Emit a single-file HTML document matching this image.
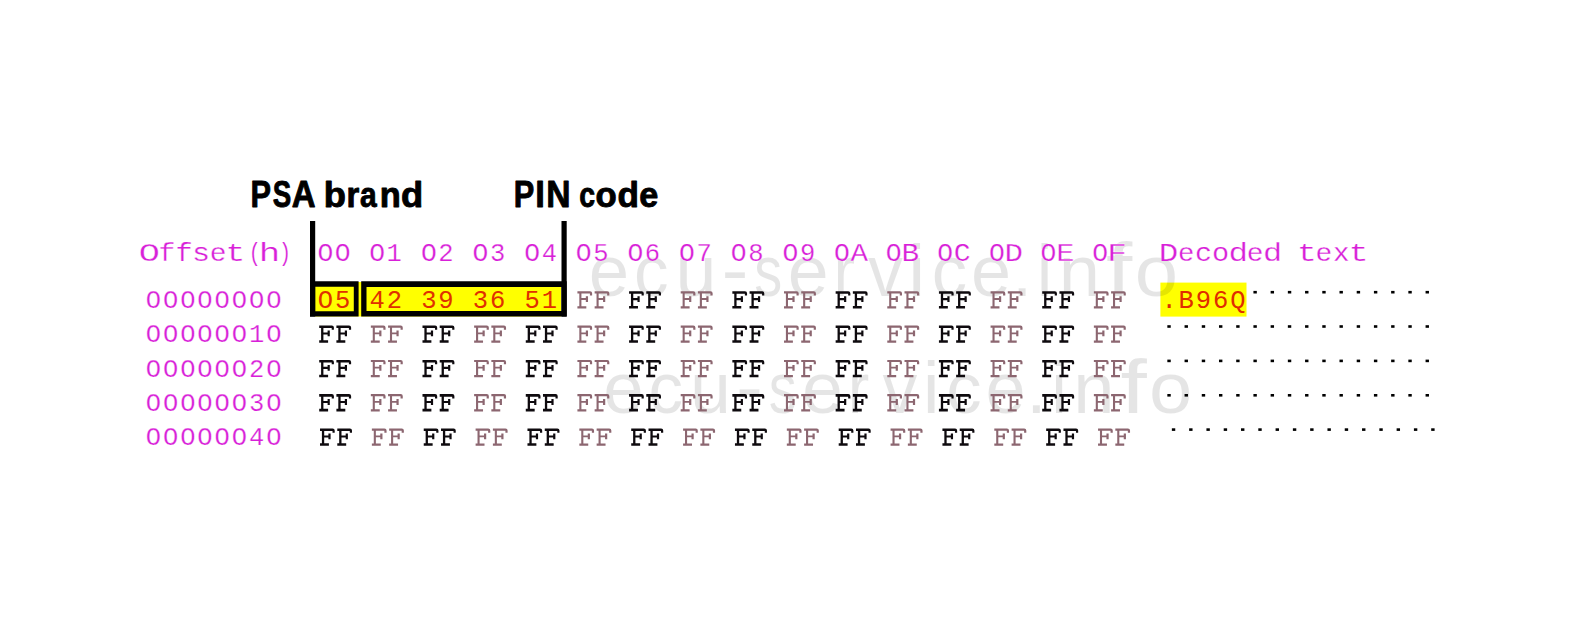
<!DOCTYPE html>
<html><head><meta charset="utf-8"><style>
html,body{margin:0;padding:0;background:#fff;}
body{width:1586px;height:627px;position:relative;overflow:hidden;}
text{white-space:pre;}
</style></head><body>
<svg width="1586" height="627" viewBox="0 0 1586 627" style="position:absolute;left:0;top:0">
<defs>
<path id="Fb" d="M0 0H12.6Q14.7 0 14.7 2.0V4.3H12.5V2.55H4.20V6.9H8.4V5.0H10.6V10.8H8.4V9.00H4.20V14.75H8.9V17.3H0V14.75H1.9V2.55H0Z"/>
<path id="Fr" d="M0 0H12.6Q14.7 0 14.7 2.0V4.3H12.5V2.20H4.00V6.9H8.4V5.0H10.6V10.8H8.4V8.70H4.00V15.10H8.9V17.3H0V15.10H1.9V2.20H0Z"/>
</defs>
<rect x="315" y="282" width="246" height="34.5" fill="#ffff00"/>
<rect x="1160.4" y="282.6" width="86.1" height="34" fill="#ffff00"/>
<g font-family="Liberation Sans" fill="#000" fill-opacity="0.1">
<text transform="translate(608.90 295.80) scale(0.995 1.000)" x="-20.23" y="0" font-size="73">e</text>
<text transform="translate(651.90 295.80) scale(0.947 1.000)" x="-18.84" y="0" font-size="73">c</text>
<text transform="translate(696.00 295.80) scale(1.009 1.000)" x="-20.25" y="0" font-size="73">u</text>
<text transform="translate(735.10 294.00) scale(1.111 1.000)" x="-12.15" y="0" font-size="73">-</text>
<text transform="translate(768.00 295.80) scale(0.767 1.000)" x="-17.95" y="0" font-size="73">s</text>
<text transform="translate(808.00 295.80) scale(1.007 1.000)" x="-20.23" y="0" font-size="73">e</text>
<text transform="translate(845.80 295.80) scale(0.888 1.000)" x="-13.97" y="0" font-size="73">r</text>
<text transform="translate(885.50 295.80) scale(0.956 1.000)" x="-18.25" y="0" font-size="73">v</text>
<text transform="translate(916.70 295.80) scale(1.044 1.000)" x="-8.09" y="0" font-size="73">i</text>
<text transform="translate(950.00 295.80) scale(0.969 1.000)" x="-18.84" y="0" font-size="73">c</text>
<text transform="translate(991.00 295.80) scale(0.987 1.000)" x="-20.23" y="0" font-size="73">e</text>
<text transform="translate(1022.00 295.80) scale(1.000 1.000)" x="-10.14" y="0" font-size="73">.</text>
<text transform="translate(1044.60 295.80) scale(0.966 1.000)" x="-8.09" y="0" font-size="73">i</text>
<text transform="translate(1079.50 295.80) scale(1.016 1.000)" x="-20.35" y="0" font-size="73">n</text>
<text transform="translate(1120.00 295.80) scale(1.297 1.045)" x="-10.71" y="0" font-size="73">f</text>
<text transform="translate(1156.40 295.80) scale(1.068 1.000)" x="-20.30" y="0" font-size="73">o</text>
<text transform="translate(623.30 412.60) scale(0.995 1.000)" x="-20.23" y="0" font-size="73">e</text>
<text transform="translate(666.30 412.60) scale(0.947 1.000)" x="-18.84" y="0" font-size="73">c</text>
<text transform="translate(710.40 412.60) scale(1.009 1.000)" x="-20.25" y="0" font-size="73">u</text>
<text transform="translate(749.50 410.80) scale(1.111 1.000)" x="-12.15" y="0" font-size="73">-</text>
<text transform="translate(782.40 412.60) scale(0.767 1.000)" x="-17.95" y="0" font-size="73">s</text>
<text transform="translate(822.40 412.60) scale(1.007 1.000)" x="-20.23" y="0" font-size="73">e</text>
<text transform="translate(860.20 412.60) scale(0.888 1.000)" x="-13.97" y="0" font-size="73">r</text>
<text transform="translate(899.90 412.60) scale(0.956 1.000)" x="-18.25" y="0" font-size="73">v</text>
<text transform="translate(931.10 412.60) scale(1.044 1.000)" x="-8.09" y="0" font-size="73">i</text>
<text transform="translate(964.40 412.60) scale(0.969 1.000)" x="-18.84" y="0" font-size="73">c</text>
<text transform="translate(1005.40 412.60) scale(0.987 1.000)" x="-20.23" y="0" font-size="73">e</text>
<text transform="translate(1036.40 412.60) scale(1.000 1.000)" x="-10.14" y="0" font-size="73">.</text>
<text transform="translate(1059.00 412.60) scale(0.966 1.000)" x="-8.09" y="0" font-size="73">i</text>
<text transform="translate(1093.90 412.60) scale(1.016 1.000)" x="-20.35" y="0" font-size="73">n</text>
<text transform="translate(1134.40 412.60) scale(1.297 1.045)" x="-10.71" y="0" font-size="73">f</text>
<text transform="translate(1170.80 412.60) scale(1.068 1.000)" x="-20.30" y="0" font-size="73">o</text>
</g>
<g font-family="Liberation Sans" font-weight="bold" fill="#000" stroke="#000" stroke-width="0.9" stroke-linejoin="round">
<text transform="translate(261.25 206.85) scale(0.833 1.000)" x="-12.91" y="0" font-size="36.9">P</text>
<text transform="translate(281.75 206.85) scale(0.751 1.000)" x="-12.12" y="0" font-size="36.9">S</text>
<text transform="translate(303.70 206.85) scale(0.893 1.000)" x="-13.30" y="0" font-size="36.9">A</text>
<text transform="translate(335.20 206.85) scale(1.038 1.000)" x="-11.13" y="0" font-size="35.0">b</text>
<text transform="translate(353.60 206.85) scale(0.937 1.000)" x="-7.70" y="0" font-size="35.0">r</text>
<text transform="translate(368.85 206.85) scale(0.857 1.000)" x="-10.36" y="0" font-size="35.0">a</text>
<text transform="translate(390.35 206.85) scale(0.982 1.000)" x="-10.76" y="0" font-size="35.0">n</text>
<text transform="translate(411.70 206.85) scale(1.038 1.000)" x="-10.25" y="0" font-size="35.0">d</text>
<text transform="translate(524.55 206.85) scale(0.833 1.000)" x="-12.91" y="0" font-size="36.9">P</text>
<text transform="translate(540.15 206.85) scale(0.941 1.000)" x="-5.13" y="0" font-size="36.9">I</text>
<text transform="translate(558.45 206.85) scale(0.913 1.000)" x="-13.31" y="0" font-size="36.9">N</text>
<text transform="translate(587.40 206.85) scale(0.814 1.000)" x="-9.90" y="0" font-size="35.0">c</text>
<text transform="translate(606.00 206.85) scale(0.992 1.000)" x="-10.69" y="0" font-size="35.0">o</text>
<text transform="translate(627.70 206.85) scale(1.004 1.000)" x="-10.25" y="0" font-size="35.0">d</text>
<text transform="translate(648.90 206.85) scale(0.976 1.000)" x="-9.82" y="0" font-size="35.0">e</text>
</g>
<g font-family="Liberation Mono" font-size="25.5">
<text transform="translate(149.40 261.00) scale(1.380 1)" x="-7.65" y="0" fill="#d820d8" stroke="#fff" stroke-width="0.25">O</text><text transform="translate(166.95 261.00) scale(1.095 1)" x="-7.70" y="0" fill="#d820d8" stroke="#fff" stroke-width="0.25">f</text><text transform="translate(184.10 261.00) scale(1.120 1)" x="-7.70" y="0" fill="#d820d8" stroke="#fff" stroke-width="0.25">f</text><text transform="translate(201.05 261.00) scale(1.178 1)" x="-7.64" y="0" fill="#d820d8" stroke="#fff" stroke-width="0.25">s</text><text transform="translate(218.00 261.00) scale(1.095 1)" x="-7.64" y="0" fill="#d820d8" stroke="#fff" stroke-width="0.25">e</text><text transform="translate(235.30 261.00) scale(1.292 1)" x="-7.51" y="0" fill="#d820d8" stroke="#fff" stroke-width="0.25">t</text><text transform="translate(254.70 261.00) scale(0.790 1)" x="-7.68" y="0" fill="#d820d8" stroke="#fff" stroke-width="0.25">(</text><text transform="translate(269.60 261.00) scale(1.404 1)" x="-7.68" y="0" fill="#d820d8" stroke="#fff" stroke-width="0.25">h</text><text transform="translate(285.00 261.00) scale(0.790 1)" x="-7.60" y="0" fill="#d820d8" stroke="#fff" stroke-width="0.25">)</text>
<text transform="translate(325.50 261.00) scale(1.035 1)" x="-7.65" y="0" fill="#d820d8" stroke="#fff" stroke-width="0.25">O</text><text transform="translate(342.71 261.00) scale(1.035 1)" x="-7.65" y="0" fill="#d820d8" stroke="#fff" stroke-width="0.25">O</text><text transform="translate(377.14 261.00) scale(1.035 1)" x="-7.65" y="0" fill="#d820d8" stroke="#fff" stroke-width="0.25">O</text><text transform="translate(394.36 261.00) scale(1.000 1)" x="-7.96" y="0" fill="#d820d8" stroke="#fff" stroke-width="0.25">1</text><text transform="translate(428.79 261.00) scale(1.035 1)" x="-7.65" y="0" fill="#d820d8" stroke="#fff" stroke-width="0.25">O</text><text transform="translate(446.00 261.00) scale(1.000 1)" x="-7.65" y="0" fill="#d820d8" stroke="#fff" stroke-width="0.25">2</text><text transform="translate(480.44 261.00) scale(1.035 1)" x="-7.65" y="0" fill="#d820d8" stroke="#fff" stroke-width="0.25">O</text><text transform="translate(497.65 261.00) scale(1.000 1)" x="-7.64" y="0" fill="#d820d8" stroke="#fff" stroke-width="0.25">3</text><text transform="translate(532.08 261.00) scale(1.035 1)" x="-7.65" y="0" fill="#d820d8" stroke="#fff" stroke-width="0.25">O</text><text transform="translate(549.29 261.00) scale(1.000 1)" x="-7.65" y="0" fill="#d820d8" stroke="#fff" stroke-width="0.25">4</text><text transform="translate(583.73 261.00) scale(1.035 1)" x="-7.65" y="0" fill="#d820d8" stroke="#fff" stroke-width="0.25">O</text><text transform="translate(600.94 261.00) scale(1.000 1)" x="-7.64" y="0" fill="#d820d8" stroke="#fff" stroke-width="0.25">5</text><text transform="translate(635.37 261.00) scale(1.035 1)" x="-7.65" y="0" fill="#d820d8" stroke="#fff" stroke-width="0.25">O</text><text transform="translate(652.58 261.00) scale(1.000 1)" x="-7.76" y="0" fill="#d820d8" stroke="#fff" stroke-width="0.25">6</text><text transform="translate(687.01 261.00) scale(1.035 1)" x="-7.65" y="0" fill="#d820d8" stroke="#fff" stroke-width="0.25">O</text><text transform="translate(704.23 261.00) scale(1.000 1)" x="-7.64" y="0" fill="#d820d8" stroke="#fff" stroke-width="0.25">7</text><text transform="translate(738.66 261.00) scale(1.035 1)" x="-7.65" y="0" fill="#d820d8" stroke="#fff" stroke-width="0.25">O</text><text transform="translate(755.88 261.00) scale(1.000 1)" x="-7.64" y="0" fill="#d820d8" stroke="#fff" stroke-width="0.25">8</text><text transform="translate(790.30 261.00) scale(1.035 1)" x="-7.65" y="0" fill="#d820d8" stroke="#fff" stroke-width="0.25">O</text><text transform="translate(807.52 261.00) scale(1.000 1)" x="-7.65" y="0" fill="#d820d8" stroke="#fff" stroke-width="0.25">9</text><text transform="translate(841.95 261.00) scale(1.035 1)" x="-7.65" y="0" fill="#d820d8" stroke="#fff" stroke-width="0.25">O</text><text transform="translate(859.16 261.00) scale(1.145 1)" x="-7.65" y="0" fill="#d820d8" stroke="#fff" stroke-width="0.25">A</text><text transform="translate(893.60 261.00) scale(1.035 1)" x="-7.65" y="0" fill="#d820d8" stroke="#fff" stroke-width="0.25">O</text><text transform="translate(910.81 261.00) scale(1.152 1)" x="-8.18" y="0" fill="#d820d8" stroke="#fff" stroke-width="0.25">B</text><text transform="translate(945.24 261.00) scale(1.035 1)" x="-7.65" y="0" fill="#d820d8" stroke="#fff" stroke-width="0.25">O</text><text transform="translate(962.46 261.00) scale(1.108 1)" x="-7.81" y="0" fill="#d820d8" stroke="#fff" stroke-width="0.25">C</text><text transform="translate(996.88 261.00) scale(1.035 1)" x="-7.65" y="0" fill="#d820d8" stroke="#fff" stroke-width="0.25">O</text><text transform="translate(1014.10 261.00) scale(1.209 1)" x="-8.01" y="0" fill="#d820d8" stroke="#fff" stroke-width="0.25">D</text><text transform="translate(1048.53 261.00) scale(1.035 1)" x="-7.65" y="0" fill="#d820d8" stroke="#fff" stroke-width="0.25">O</text><text transform="translate(1065.74 261.00) scale(1.188 1)" x="-7.99" y="0" fill="#d820d8" stroke="#fff" stroke-width="0.25">E</text><text transform="translate(1100.17 261.00) scale(1.035 1)" x="-7.65" y="0" fill="#d820d8" stroke="#fff" stroke-width="0.25">O</text><text transform="translate(1117.39 261.00) scale(1.280 1)" x="-7.96" y="0" fill="#d820d8" stroke="#fff" stroke-width="0.25">F</text>
<text transform="translate(1169.03 261.00) scale(1.276 1)" x="-8.01" y="0" fill="#d820d8" stroke="#fff" stroke-width="0.25">D</text><text transform="translate(1186.25 261.00) scale(1.070 1)" x="-7.64" y="0" fill="#d820d8" stroke="#fff" stroke-width="0.25">e</text><text transform="translate(1203.46 261.00) scale(1.116 1)" x="-7.53" y="0" fill="#d820d8" stroke="#fff" stroke-width="0.25">c</text><text transform="translate(1220.68 261.00) scale(1.121 1)" x="-7.64" y="0" fill="#d820d8" stroke="#fff" stroke-width="0.25">o</text><text transform="translate(1237.89 261.00) scale(1.278 1)" x="-7.39" y="0" fill="#d820d8" stroke="#fff" stroke-width="0.25">d</text><text transform="translate(1255.11 261.00) scale(1.095 1)" x="-7.64" y="0" fill="#d820d8" stroke="#fff" stroke-width="0.25">e</text><text transform="translate(1272.32 261.00) scale(1.252 1)" x="-7.39" y="0" fill="#d820d8" stroke="#fff" stroke-width="0.25">d</text><text transform="translate(1306.75 261.00) scale(1.292 1)" x="-7.51" y="0" fill="#d820d8" stroke="#fff" stroke-width="0.25">t</text><text transform="translate(1323.97 261.00) scale(1.095 1)" x="-7.64" y="0" fill="#d820d8" stroke="#fff" stroke-width="0.25">e</text><text transform="translate(1341.18 261.00) scale(1.082 1)" x="-7.64" y="0" fill="#d820d8" stroke="#fff" stroke-width="0.25">x</text><text transform="translate(1358.40 261.00) scale(1.292 1)" x="-7.51" y="0" fill="#d820d8" stroke="#fff" stroke-width="0.25">t</text>
<text x="145.71 162.92 180.14 197.35 214.57 231.78 249.00 266.21" y="307.80" fill="#d820d8" stroke="#fff" stroke-width="0.25">OOOOOOOO</text>
<text x="145.71 162.92 180.14 197.35 214.57 231.78 249.00 266.21" y="342.10" fill="#d820d8" stroke="#fff" stroke-width="0.25">OOOOOO1O</text>
<text x="145.71 162.92 180.14 197.35 214.57 231.78 249.00 266.21" y="376.50" fill="#d820d8" stroke="#fff" stroke-width="0.25">OOOOOO2O</text>
<text x="145.71 162.92 180.14 197.35 214.57 231.78 249.00 266.21" y="410.70" fill="#d820d8" stroke="#fff" stroke-width="0.25">OOOOOO3O</text>
<text x="145.71 162.92 180.14 197.35 214.57 231.78 249.00 266.21" y="445.10" fill="#d820d8" stroke="#fff" stroke-width="0.25">OOOOOO4O</text>
<text x="317.86 335.07 369.50 386.72 421.15 438.36 472.79 490.01 524.44 541.65" y="307.80" fill="#e03000">O542393651</text>
<text x="1161.39 1178.61 1195.82 1213.04 1230.25" y="307.80" fill="#e02c00">.B96Q</text>
</g>
<use href="#Fr" x="577.42" y="291.20" fill="#8c6670"/>
<use href="#Fr" x="594.64" y="291.20" fill="#8c6670"/>
<use href="#Fb" x="629.07" y="291.20" fill="#0e0a0e"/>
<use href="#Fb" x="646.28" y="291.20" fill="#0e0a0e"/>
<use href="#Fr" x="680.71" y="291.20" fill="#8c6670"/>
<use href="#Fr" x="697.93" y="291.20" fill="#8c6670"/>
<use href="#Fb" x="732.36" y="291.20" fill="#0e0a0e"/>
<use href="#Fb" x="749.57" y="291.20" fill="#0e0a0e"/>
<use href="#Fr" x="784.00" y="291.20" fill="#8c6670"/>
<use href="#Fr" x="801.22" y="291.20" fill="#8c6670"/>
<use href="#Fb" x="835.65" y="291.20" fill="#0e0a0e"/>
<use href="#Fb" x="852.86" y="291.20" fill="#0e0a0e"/>
<use href="#Fr" x="887.29" y="291.20" fill="#8c6670"/>
<use href="#Fr" x="904.51" y="291.20" fill="#8c6670"/>
<use href="#Fb" x="938.94" y="291.20" fill="#0e0a0e"/>
<use href="#Fb" x="956.15" y="291.20" fill="#0e0a0e"/>
<use href="#Fr" x="990.58" y="291.20" fill="#8c6670"/>
<use href="#Fr" x="1007.80" y="291.20" fill="#8c6670"/>
<use href="#Fb" x="1042.23" y="291.20" fill="#0e0a0e"/>
<use href="#Fb" x="1059.44" y="291.20" fill="#0e0a0e"/>
<use href="#Fr" x="1093.87" y="291.20" fill="#8c6670"/>
<use href="#Fr" x="1111.09" y="291.20" fill="#8c6670"/>
<use href="#Fb" x="319.20" y="325.50" fill="#0e0a0e"/>
<use href="#Fb" x="336.41" y="325.50" fill="#0e0a0e"/>
<use href="#Fr" x="370.84" y="325.50" fill="#8c6670"/>
<use href="#Fr" x="388.06" y="325.50" fill="#8c6670"/>
<use href="#Fb" x="422.49" y="325.50" fill="#0e0a0e"/>
<use href="#Fb" x="439.70" y="325.50" fill="#0e0a0e"/>
<use href="#Fr" x="474.13" y="325.50" fill="#8c6670"/>
<use href="#Fr" x="491.35" y="325.50" fill="#8c6670"/>
<use href="#Fb" x="525.78" y="325.50" fill="#0e0a0e"/>
<use href="#Fb" x="542.99" y="325.50" fill="#0e0a0e"/>
<use href="#Fr" x="577.42" y="325.50" fill="#8c6670"/>
<use href="#Fr" x="594.64" y="325.50" fill="#8c6670"/>
<use href="#Fb" x="629.07" y="325.50" fill="#0e0a0e"/>
<use href="#Fb" x="646.28" y="325.50" fill="#0e0a0e"/>
<use href="#Fr" x="680.71" y="325.50" fill="#8c6670"/>
<use href="#Fr" x="697.93" y="325.50" fill="#8c6670"/>
<use href="#Fb" x="732.36" y="325.50" fill="#0e0a0e"/>
<use href="#Fb" x="749.57" y="325.50" fill="#0e0a0e"/>
<use href="#Fr" x="784.00" y="325.50" fill="#8c6670"/>
<use href="#Fr" x="801.22" y="325.50" fill="#8c6670"/>
<use href="#Fb" x="835.65" y="325.50" fill="#0e0a0e"/>
<use href="#Fb" x="852.86" y="325.50" fill="#0e0a0e"/>
<use href="#Fr" x="887.29" y="325.50" fill="#8c6670"/>
<use href="#Fr" x="904.51" y="325.50" fill="#8c6670"/>
<use href="#Fb" x="938.94" y="325.50" fill="#0e0a0e"/>
<use href="#Fb" x="956.15" y="325.50" fill="#0e0a0e"/>
<use href="#Fr" x="990.58" y="325.50" fill="#8c6670"/>
<use href="#Fr" x="1007.80" y="325.50" fill="#8c6670"/>
<use href="#Fb" x="1042.23" y="325.50" fill="#0e0a0e"/>
<use href="#Fb" x="1059.44" y="325.50" fill="#0e0a0e"/>
<use href="#Fr" x="1093.87" y="325.50" fill="#8c6670"/>
<use href="#Fr" x="1111.09" y="325.50" fill="#8c6670"/>
<use href="#Fb" x="319.20" y="359.90" fill="#0e0a0e"/>
<use href="#Fb" x="336.41" y="359.90" fill="#0e0a0e"/>
<use href="#Fr" x="370.84" y="359.90" fill="#8c6670"/>
<use href="#Fr" x="388.06" y="359.90" fill="#8c6670"/>
<use href="#Fb" x="422.49" y="359.90" fill="#0e0a0e"/>
<use href="#Fb" x="439.70" y="359.90" fill="#0e0a0e"/>
<use href="#Fr" x="474.13" y="359.90" fill="#8c6670"/>
<use href="#Fr" x="491.35" y="359.90" fill="#8c6670"/>
<use href="#Fb" x="525.78" y="359.90" fill="#0e0a0e"/>
<use href="#Fb" x="542.99" y="359.90" fill="#0e0a0e"/>
<use href="#Fr" x="577.42" y="359.90" fill="#8c6670"/>
<use href="#Fr" x="594.64" y="359.90" fill="#8c6670"/>
<use href="#Fb" x="629.07" y="359.90" fill="#0e0a0e"/>
<use href="#Fb" x="646.28" y="359.90" fill="#0e0a0e"/>
<use href="#Fr" x="680.71" y="359.90" fill="#8c6670"/>
<use href="#Fr" x="697.93" y="359.90" fill="#8c6670"/>
<use href="#Fb" x="732.36" y="359.90" fill="#0e0a0e"/>
<use href="#Fb" x="749.57" y="359.90" fill="#0e0a0e"/>
<use href="#Fr" x="784.00" y="359.90" fill="#8c6670"/>
<use href="#Fr" x="801.22" y="359.90" fill="#8c6670"/>
<use href="#Fb" x="835.65" y="359.90" fill="#0e0a0e"/>
<use href="#Fb" x="852.86" y="359.90" fill="#0e0a0e"/>
<use href="#Fr" x="887.29" y="359.90" fill="#8c6670"/>
<use href="#Fr" x="904.51" y="359.90" fill="#8c6670"/>
<use href="#Fb" x="938.94" y="359.90" fill="#0e0a0e"/>
<use href="#Fb" x="956.15" y="359.90" fill="#0e0a0e"/>
<use href="#Fr" x="990.58" y="359.90" fill="#8c6670"/>
<use href="#Fr" x="1007.80" y="359.90" fill="#8c6670"/>
<use href="#Fb" x="1042.23" y="359.90" fill="#0e0a0e"/>
<use href="#Fb" x="1059.44" y="359.90" fill="#0e0a0e"/>
<use href="#Fr" x="1093.87" y="359.90" fill="#8c6670"/>
<use href="#Fr" x="1111.09" y="359.90" fill="#8c6670"/>
<use href="#Fb" x="319.20" y="394.10" fill="#0e0a0e"/>
<use href="#Fb" x="336.41" y="394.10" fill="#0e0a0e"/>
<use href="#Fr" x="370.84" y="394.10" fill="#8c6670"/>
<use href="#Fr" x="388.06" y="394.10" fill="#8c6670"/>
<use href="#Fb" x="422.49" y="394.10" fill="#0e0a0e"/>
<use href="#Fb" x="439.70" y="394.10" fill="#0e0a0e"/>
<use href="#Fr" x="474.13" y="394.10" fill="#8c6670"/>
<use href="#Fr" x="491.35" y="394.10" fill="#8c6670"/>
<use href="#Fb" x="525.78" y="394.10" fill="#0e0a0e"/>
<use href="#Fb" x="542.99" y="394.10" fill="#0e0a0e"/>
<use href="#Fr" x="577.42" y="394.10" fill="#8c6670"/>
<use href="#Fr" x="594.64" y="394.10" fill="#8c6670"/>
<use href="#Fb" x="629.07" y="394.10" fill="#0e0a0e"/>
<use href="#Fb" x="646.28" y="394.10" fill="#0e0a0e"/>
<use href="#Fr" x="680.71" y="394.10" fill="#8c6670"/>
<use href="#Fr" x="697.93" y="394.10" fill="#8c6670"/>
<use href="#Fb" x="732.36" y="394.10" fill="#0e0a0e"/>
<use href="#Fb" x="749.57" y="394.10" fill="#0e0a0e"/>
<use href="#Fr" x="784.00" y="394.10" fill="#8c6670"/>
<use href="#Fr" x="801.22" y="394.10" fill="#8c6670"/>
<use href="#Fb" x="835.65" y="394.10" fill="#0e0a0e"/>
<use href="#Fb" x="852.86" y="394.10" fill="#0e0a0e"/>
<use href="#Fr" x="887.29" y="394.10" fill="#8c6670"/>
<use href="#Fr" x="904.51" y="394.10" fill="#8c6670"/>
<use href="#Fb" x="938.94" y="394.10" fill="#0e0a0e"/>
<use href="#Fb" x="956.15" y="394.10" fill="#0e0a0e"/>
<use href="#Fr" x="990.58" y="394.10" fill="#8c6670"/>
<use href="#Fr" x="1007.80" y="394.10" fill="#8c6670"/>
<use href="#Fb" x="1042.23" y="394.10" fill="#0e0a0e"/>
<use href="#Fb" x="1059.44" y="394.10" fill="#0e0a0e"/>
<use href="#Fr" x="1093.87" y="394.10" fill="#8c6670"/>
<use href="#Fr" x="1111.09" y="394.10" fill="#8c6670"/>
<use href="#Fb" x="320.00" y="428.50" fill="#0e0a0e"/>
<use href="#Fb" x="337.29" y="428.50" fill="#0e0a0e"/>
<use href="#Fr" x="371.87" y="428.50" fill="#8c6670"/>
<use href="#Fr" x="389.16" y="428.50" fill="#8c6670"/>
<use href="#Fb" x="423.74" y="428.50" fill="#0e0a0e"/>
<use href="#Fb" x="441.03" y="428.50" fill="#0e0a0e"/>
<use href="#Fr" x="475.61" y="428.50" fill="#8c6670"/>
<use href="#Fr" x="492.90" y="428.50" fill="#8c6670"/>
<use href="#Fb" x="527.48" y="428.50" fill="#0e0a0e"/>
<use href="#Fb" x="544.77" y="428.50" fill="#0e0a0e"/>
<use href="#Fr" x="579.35" y="428.50" fill="#8c6670"/>
<use href="#Fr" x="596.64" y="428.50" fill="#8c6670"/>
<use href="#Fb" x="631.22" y="428.50" fill="#0e0a0e"/>
<use href="#Fb" x="648.51" y="428.50" fill="#0e0a0e"/>
<use href="#Fr" x="683.09" y="428.50" fill="#8c6670"/>
<use href="#Fr" x="700.38" y="428.50" fill="#8c6670"/>
<use href="#Fb" x="734.96" y="428.50" fill="#0e0a0e"/>
<use href="#Fb" x="752.25" y="428.50" fill="#0e0a0e"/>
<use href="#Fr" x="786.83" y="428.50" fill="#8c6670"/>
<use href="#Fr" x="804.12" y="428.50" fill="#8c6670"/>
<use href="#Fb" x="838.70" y="428.50" fill="#0e0a0e"/>
<use href="#Fb" x="855.99" y="428.50" fill="#0e0a0e"/>
<use href="#Fr" x="890.57" y="428.50" fill="#8c6670"/>
<use href="#Fr" x="907.86" y="428.50" fill="#8c6670"/>
<use href="#Fb" x="942.44" y="428.50" fill="#0e0a0e"/>
<use href="#Fb" x="959.73" y="428.50" fill="#0e0a0e"/>
<use href="#Fr" x="994.31" y="428.50" fill="#8c6670"/>
<use href="#Fr" x="1011.60" y="428.50" fill="#8c6670"/>
<use href="#Fb" x="1046.18" y="428.50" fill="#0e0a0e"/>
<use href="#Fb" x="1063.47" y="428.50" fill="#0e0a0e"/>
<use href="#Fr" x="1098.05" y="428.50" fill="#8c6670"/>
<use href="#Fr" x="1115.34" y="428.50" fill="#8c6670"/>
<rect x="1253.42" y="290.90" width="3.4" height="2.6" fill="#000"/>
<rect x="1270.63" y="290.90" width="3.4" height="2.6" fill="#000"/>
<rect x="1287.85" y="290.90" width="3.4" height="2.6" fill="#000"/>
<rect x="1305.06" y="290.90" width="3.4" height="2.6" fill="#000"/>
<rect x="1322.28" y="290.90" width="3.4" height="2.6" fill="#000"/>
<rect x="1339.49" y="290.90" width="3.4" height="2.6" fill="#000"/>
<rect x="1356.71" y="290.90" width="3.4" height="2.6" fill="#000"/>
<rect x="1373.92" y="290.90" width="3.4" height="2.6" fill="#000"/>
<rect x="1391.14" y="290.90" width="3.4" height="2.6" fill="#000"/>
<rect x="1408.35" y="290.90" width="3.4" height="2.6" fill="#000"/>
<rect x="1425.57" y="290.90" width="3.4" height="2.6" fill="#000"/>
<rect x="1167.34" y="325.20" width="3.4" height="2.6" fill="#000"/>
<rect x="1184.56" y="325.20" width="3.4" height="2.6" fill="#000"/>
<rect x="1201.77" y="325.20" width="3.4" height="2.6" fill="#000"/>
<rect x="1218.99" y="325.20" width="3.4" height="2.6" fill="#000"/>
<rect x="1236.20" y="325.20" width="3.4" height="2.6" fill="#000"/>
<rect x="1253.42" y="325.20" width="3.4" height="2.6" fill="#000"/>
<rect x="1270.63" y="325.20" width="3.4" height="2.6" fill="#000"/>
<rect x="1287.85" y="325.20" width="3.4" height="2.6" fill="#000"/>
<rect x="1305.06" y="325.20" width="3.4" height="2.6" fill="#000"/>
<rect x="1322.28" y="325.20" width="3.4" height="2.6" fill="#000"/>
<rect x="1339.49" y="325.20" width="3.4" height="2.6" fill="#000"/>
<rect x="1356.71" y="325.20" width="3.4" height="2.6" fill="#000"/>
<rect x="1373.92" y="325.20" width="3.4" height="2.6" fill="#000"/>
<rect x="1391.14" y="325.20" width="3.4" height="2.6" fill="#000"/>
<rect x="1408.35" y="325.20" width="3.4" height="2.6" fill="#000"/>
<rect x="1425.57" y="325.20" width="3.4" height="2.6" fill="#000"/>
<rect x="1167.34" y="359.60" width="3.4" height="2.6" fill="#000"/>
<rect x="1184.56" y="359.60" width="3.4" height="2.6" fill="#000"/>
<rect x="1201.77" y="359.60" width="3.4" height="2.6" fill="#000"/>
<rect x="1218.99" y="359.60" width="3.4" height="2.6" fill="#000"/>
<rect x="1236.20" y="359.60" width="3.4" height="2.6" fill="#000"/>
<rect x="1253.42" y="359.60" width="3.4" height="2.6" fill="#000"/>
<rect x="1270.63" y="359.60" width="3.4" height="2.6" fill="#000"/>
<rect x="1287.85" y="359.60" width="3.4" height="2.6" fill="#000"/>
<rect x="1305.06" y="359.60" width="3.4" height="2.6" fill="#000"/>
<rect x="1322.28" y="359.60" width="3.4" height="2.6" fill="#000"/>
<rect x="1339.49" y="359.60" width="3.4" height="2.6" fill="#000"/>
<rect x="1356.71" y="359.60" width="3.4" height="2.6" fill="#000"/>
<rect x="1373.92" y="359.60" width="3.4" height="2.6" fill="#000"/>
<rect x="1391.14" y="359.60" width="3.4" height="2.6" fill="#000"/>
<rect x="1408.35" y="359.60" width="3.4" height="2.6" fill="#000"/>
<rect x="1425.57" y="359.60" width="3.4" height="2.6" fill="#000"/>
<rect x="1167.34" y="394.00" width="3.4" height="2.6" fill="#000"/>
<rect x="1184.56" y="394.00" width="3.4" height="2.6" fill="#000"/>
<rect x="1201.77" y="394.00" width="3.4" height="2.6" fill="#000"/>
<rect x="1218.99" y="394.00" width="3.4" height="2.6" fill="#000"/>
<rect x="1236.20" y="394.00" width="3.4" height="2.6" fill="#000"/>
<rect x="1253.42" y="394.00" width="3.4" height="2.6" fill="#000"/>
<rect x="1270.63" y="394.00" width="3.4" height="2.6" fill="#000"/>
<rect x="1287.85" y="394.00" width="3.4" height="2.6" fill="#000"/>
<rect x="1305.06" y="394.00" width="3.4" height="2.6" fill="#000"/>
<rect x="1322.28" y="394.00" width="3.4" height="2.6" fill="#000"/>
<rect x="1339.49" y="394.00" width="3.4" height="2.6" fill="#000"/>
<rect x="1356.71" y="394.00" width="3.4" height="2.6" fill="#000"/>
<rect x="1373.92" y="394.00" width="3.4" height="2.6" fill="#000"/>
<rect x="1391.14" y="394.00" width="3.4" height="2.6" fill="#000"/>
<rect x="1408.35" y="394.00" width="3.4" height="2.6" fill="#000"/>
<rect x="1425.57" y="394.00" width="3.4" height="2.6" fill="#000"/>
<rect x="1171.85" y="428.30" width="3.4" height="2.6" fill="#000"/>
<rect x="1189.14" y="428.30" width="3.4" height="2.6" fill="#000"/>
<rect x="1206.43" y="428.30" width="3.4" height="2.6" fill="#000"/>
<rect x="1223.72" y="428.30" width="3.4" height="2.6" fill="#000"/>
<rect x="1241.01" y="428.30" width="3.4" height="2.6" fill="#000"/>
<rect x="1258.30" y="428.30" width="3.4" height="2.6" fill="#000"/>
<rect x="1275.59" y="428.30" width="3.4" height="2.6" fill="#000"/>
<rect x="1292.88" y="428.30" width="3.4" height="2.6" fill="#000"/>
<rect x="1310.17" y="428.30" width="3.4" height="2.6" fill="#000"/>
<rect x="1327.46" y="428.30" width="3.4" height="2.6" fill="#000"/>
<rect x="1344.75" y="428.30" width="3.4" height="2.6" fill="#000"/>
<rect x="1362.04" y="428.30" width="3.4" height="2.6" fill="#000"/>
<rect x="1379.34" y="428.30" width="3.4" height="2.6" fill="#000"/>
<rect x="1396.62" y="428.30" width="3.4" height="2.6" fill="#000"/>
<rect x="1413.91" y="428.30" width="3.4" height="2.6" fill="#000"/>
<rect x="1431.20" y="428.30" width="3.4" height="2.6" fill="#000"/>
<g fill="#000">
<rect x="310" y="221" width="5.2" height="95.6"/>
<rect x="561.5" y="221" width="5.2" height="95.6"/>
<path fill-rule="evenodd" d="M310 281.3H358.6V316.5H310Z M315.2 286.8H353.8V311.3H315.2Z"/>
<path fill-rule="evenodd" d="M361.2 281.3H566.7V316.5H361.2Z M366.5 286.9H561.5V311.1H366.5Z"/>
</g>
</svg>
</body></html>
